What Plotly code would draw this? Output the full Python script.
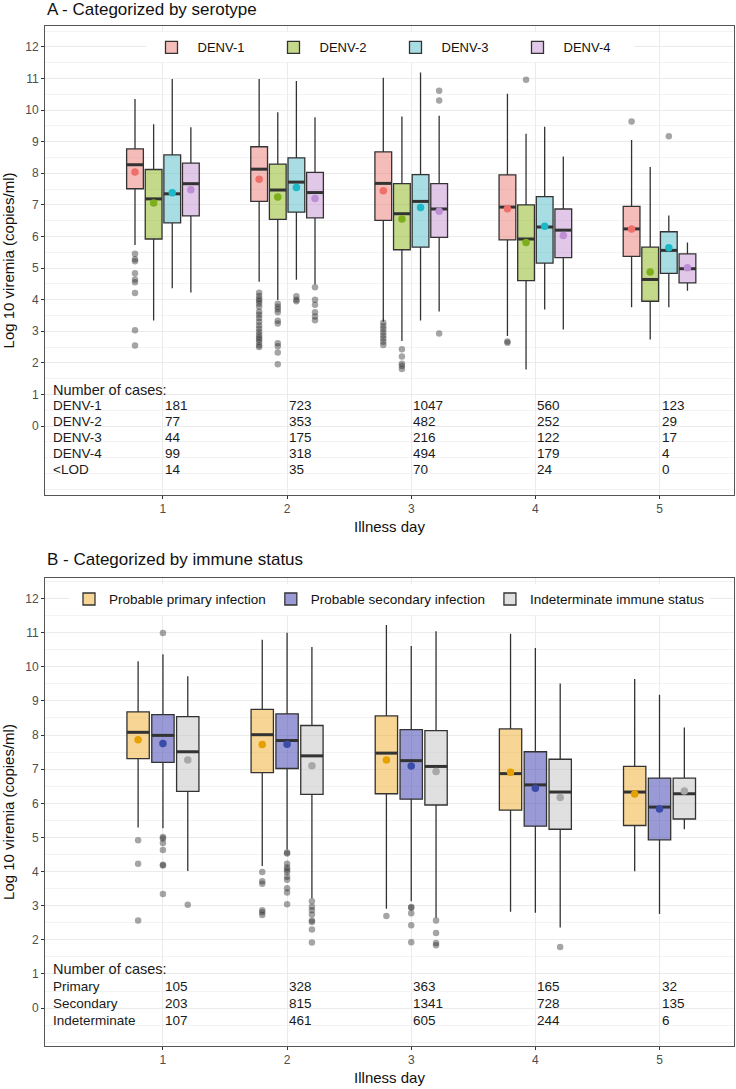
import plotly.graph_objects as go

DAYS = [1, 2, 3, 4, 5]

# ---------------- Panel A : serotypes ----------------
SEROTYPES = ["DENV-1", "DENV-2", "DENV-3", "DENV-4"]
A_COLORS = {"DENV-1": "#EF6F6A", "DENV-2": "#7DAE1C", "DENV-3": "#1BB8C8", "DENV-4": "#BC8FD6"}
A_FILLS = {"DENV-1": "rgba(235,123,117,0.5)", "DENV-2": "rgba(139,179,21,0.5)",
           "DENV-3": "rgba(81,187,199,0.5)", "DENV-4": "rgba(197,145,209,0.5)"}

A_Q1 = {"DENV-1": [7.51, 7.11, 6.51, 5.89, 5.37], "DENV-2": [5.92, 6.54, 5.58, 4.60, 3.95],
        "DENV-3": [6.43, 6.77, 5.66, 5.16, 4.83], "DENV-4": [6.65, 6.59, 5.97, 5.33, 4.53]}
A_MED = {"DENV-1": [8.27, 8.13, 7.68, 6.93, 6.24], "DENV-2": [7.19, 7.47, 6.72, 5.92, 4.64],
         "DENV-3": [7.35, 7.72, 7.11, 6.30, 5.56], "DENV-4": [7.67, 7.39, 6.87, 6.20, 4.98]}
A_Q3 = {"DENV-1": [8.77, 8.84, 8.68, 7.95, 6.95], "DENV-2": [8.12, 8.29, 7.67, 7.00, 5.66],
        "DENV-3": [8.58, 8.49, 7.96, 7.26, 6.15], "DENV-4": [8.32, 8.03, 7.67, 6.87, 5.45]}
A_LO = {"DENV-1": [5.73, 4.57, 3.30, 2.85, 3.76], "DENV-2": [3.34, 3.99, 2.69, 1.79, 2.74],
        "DENV-3": [4.36, 4.63, 3.34, 3.69, 3.76], "DENV-4": [4.23, 4.49, 3.63, 3.06, 4.28]}
A_HI = {"DENV-1": [10.35, 10.98, 11.02, 10.52, 9.05], "DENV-2": [9.55, 9.93, 9.80, 9.25, 8.20],
        "DENV-3": [10.98, 10.92, 11.19, 9.47, 6.66], "DENV-4": [9.46, 9.77, 9.82, 8.53, 5.81]}
A_MEAN = {"DENV-1": [8.04, 7.81, 7.45, 6.88, 6.24], "DENV-2": [7.06, 7.25, 6.55, 5.81, 4.88],
          "DENV-3": [7.38, 7.55, 6.92, 6.32, 5.64], "DENV-4": [7.48, 7.20, 6.80, 6.03, 5.01]}
A_OUT = {
    "DENV-1": [[5.45, 5.28, 5.22, 4.84, 4.64, 4.55, 4.21, 3.03, 2.55],
               [4.22, 4.12, 4.02, 3.96, 3.88, 3.78, 3.62, 3.52, 3.42, 3.30, 3.18, 3.08,
                2.98, 2.88, 2.80, 2.74, 2.66, 2.56, 2.50],
               [3.27, 3.17, 3.07, 2.97, 2.87, 2.77, 2.67, 2.57],
               [2.68, 2.64],
               [9.64]],
    "DENV-2": [[], [3.87, 3.78, 3.70, 3.60, 3.33, 3.25, 2.62, 2.53, 2.33, 1.96],
               [2.43, 2.20, 1.97, 1.90, 1.81], [10.96], []],
    "DENV-3": [[], [4.11, 4.00, 3.95], [], [], [9.17]],
    "DENV-4": [[], [4.39, 4.00, 3.84, 3.60, 3.47, 3.35], [10.61, 10.30, 2.93], [], []],
}
A_TABLE_LABELS = ["DENV-1", "DENV-2", "DENV-3", "DENV-4", "&lt;LOD"]
A_COUNTS = [[181, 723, 1047, 560, 123],
            [77, 353, 482, 252, 29],
            [44, 175, 216, 122, 17],
            [99, 318, 494, 179, 4],
            [14, 35, 70, 24, 0]]

# ---------------- Panel B : immune status ----------------
STATUSES = ["Probable primary infection", "Probable secondary infection", "Indeterminate immune status"]
B_COLORS = {STATUSES[0]: "#E6A000", STATUSES[1]: "#3A4BA8", STATUSES[2]: "#A8A8A8"}
B_FILLS = {STATUSES[0]: "rgba(239,171,41,0.5)", STATUSES[1]: "rgba(53,53,173,0.5)",
           STATUSES[2]: "rgba(193,193,193,0.5)"}
B_Q1 = {STATUSES[0]: [7.31, 6.90, 6.28, 5.80, 5.35], STATUSES[1]: [7.20, 7.02, 6.12, 5.33, 4.93],
        STATUSES[2]: [6.35, 6.26, 5.95, 5.24, 5.54]}
B_MED = {STATUSES[0]: [8.08, 8.01, 7.47, 6.87, 6.33], STATUSES[1]: [7.99, 7.84, 7.25, 6.54, 5.89],
         STATUSES[2]: [7.51, 7.39, 7.08, 6.33, 6.28]}
B_Q3 = {STATUSES[0]: [8.68, 8.75, 8.56, 8.18, 7.08], STATUSES[1]: [8.60, 8.62, 8.16, 7.51, 6.74],
        STATUSES[2]: [8.54, 8.28, 8.13, 7.29, 6.74]}
B_LO = {STATUSES[0]: [5.29, 4.16, 2.91, 2.82, 4.01], STATUSES[1]: [5.27, 4.65, 3.13, 2.79, 2.76],
        STATUSES[2]: [4.02, 3.22, 2.65, 2.36, 5.24]}
B_HI = {STATUSES[0]: [10.16, 10.79, 11.22, 10.97, 9.64], STATUSES[1]: [10.37, 11.00, 10.61, 10.55, 9.18],
        STATUSES[2]: [9.72, 10.58, 11.04, 9.51, 8.22]}
B_MEAN = {STATUSES[0]: [7.86, 7.72, 7.27, 6.91, 6.27], STATUSES[1]: [7.75, 7.73, 7.09, 6.44, 5.83],
          STATUSES[2]: [7.27, 7.10, 6.93, 6.17, 6.36]}
B_OUT = {
    STATUSES[0]: [[4.92, 4.23, 2.57], [3.99, 3.72, 3.64, 2.87, 2.81, 2.73], [2.70], [], []],
    STATUSES[1]: [[10.99, 5.01, 4.97, 4.84, 4.63, 4.20, 4.18, 3.34],
                  [4.56, 4.53, 4.23, 4.12, 4.05, 3.99, 3.85, 3.76, 3.51, 3.39, 3.04],
                  [2.96, 2.94, 2.78, 2.43, 1.93], [], []],
    STATUSES[2]: [[3.03], [3.13, 2.97, 2.87, 2.74, 2.57, 2.52, 2.30, 1.92],
                  [2.57, 2.20, 1.91, 1.84], [1.79], []],
}
B_TABLE_LABELS = ["Primary", "Secondary", "Indeterminate"]
B_COUNTS = [[105, 328, 363, 165, 32],
            [203, 815, 1341, 728, 135],
            [107, 461, 605, 244, 6]]

# ---------------- styling ----------------
FONT = "Liberation Sans, Arial, sans-serif"
DODGE = 0.6
EDGE = "#333333"
OUT_COLOR = "rgba(40,40,40,0.42)"

fig = go.Figure()


def add_panel(groups, colors, fills, q1, med, q3, lo, hi, mean, outl, xa, ya, legend):
    n = len(groups)
    step = DODGE / n
    bw = step * 0.9
    for i, g in enumerate(groups):
        off = (i - (n - 1) / 2) * step
        xs = [d + off for d in DAYS]
        fig.add_trace(go.Box(
            x=xs, q1=q1[g], median=med[g], q3=q3[g], lowerfence=lo[g], upperfence=hi[g],
            width=bw, fillcolor=fills[g], line=dict(color=EDGE, width=1.3), whiskerwidth=0,
            name=g, legend=legend, xaxis=xa, yaxis=ya, hoverinfo="skip", showlegend=True))
        # thick median line (ggplot fatten)
        mx, my = [], []
        for x, m in zip(xs, med[g]):
            mx += [x - bw / 2, x + bw / 2, None]
            my += [m, m, None]
        fig.add_trace(go.Scatter(x=mx, y=my, mode="lines", line=dict(color=EDGE, width=3),
                                 xaxis=xa, yaxis=ya, showlegend=False, hoverinfo="skip"))
        # outliers
        ox, oy = [], []
        for x, vals in zip(xs, outl[g]):
            ox += [x] * len(vals)
            oy += vals
        fig.add_trace(go.Scatter(x=ox, y=oy, mode="markers",
                                 marker=dict(color=OUT_COLOR, size=6.5, line=dict(width=0)),
                                 xaxis=xa, yaxis=ya, showlegend=False, hoverinfo="skip"))
    for i, g in enumerate(groups):
        off = (i - (n - 1) / 2) * step
        xs = [d + off for d in DAYS]
        fig.add_trace(go.Scatter(x=xs, y=mean[g], mode="markers",
                                 marker=dict(color=colors[g], size=7.5, line=dict(width=0)),
                                 xaxis=xa, yaxis=ya, showlegend=False, hoverinfo="skip"))


add_panel(SEROTYPES, A_COLORS, A_FILLS, A_Q1, A_MED, A_Q3, A_LO, A_HI, A_MEAN, A_OUT, "x", "y", "legend")
add_panel(STATUSES, B_COLORS, B_FILLS, B_Q1, B_MED, B_Q3, B_LO, B_HI, B_MEAN, B_OUT, "x2", "y2", "legend2")

annotations = []
LABEL_X = 0.1
HEADER_Y = 1.15
ROW_Y0 = 0.64
ROW_STEP = 0.5


def add_table(labels, counts, xref, yref):
    annotations.append(dict(x=LABEL_X, y=HEADER_Y, xref=xref, yref=yref, text="Number of cases:",
                            showarrow=False, xanchor="left", yanchor="middle",
                            font=dict(family=FONT, size=14.5, color="#1A1A1A")))
    for r, (lab, row) in enumerate(zip(labels, counts)):
        yy = ROW_Y0 - r * ROW_STEP
        annotations.append(dict(x=LABEL_X, y=yy, xref=xref, yref=yref, text=lab, showarrow=False,
                                xanchor="left", yanchor="middle",
                                font=dict(family=FONT, size=13.5, color="#1A1A1A")))
        for d, c in zip(DAYS, row):
            annotations.append(dict(x=d, y=yy, xref=xref, yref=yref, text=str(c), showarrow=False,
                                    xanchor="left", yanchor="middle",
                                    font=dict(family=FONT, size=13.5, color="#1A1A1A")))


add_table(A_TABLE_LABELS, A_COUNTS, "x", "y")
add_table(B_TABLE_LABELS, B_COUNTS, "x2", "y2")

annotations.append(dict(x=0, y=1.0165, xref="paper", yref="paper", text="A - Categorized by serotype",
                        showarrow=False, xanchor="left", yanchor="middle",
                        font=dict(family=FONT, size=17, color="#111111")))
annotations.append(dict(x=0, y=0.4765, xref="paper", yref="paper", text="B - Categorized by immune status",
                        showarrow=False, xanchor="left", yanchor="middle",
                        font=dict(family=FONT, size=17, color="#111111")))

xaxis_common = dict(range=[0.05, 5.6], tickvals=DAYS, ticktext=[str(d) for d in DAYS],
                    showgrid=True, gridcolor="#EBEBEB", gridwidth=1, zeroline=False,
                    showline=True, mirror=True, linecolor="#555555", linewidth=1,
                    ticks="outside", ticklen=3, tickcolor="#333333",
                    tickfont=dict(family=FONT, size=12, color="#4D4D4D"),
                    title=dict(text="Illness day", font=dict(family=FONT, size=15, color="#111111"),
                               standoff=6))
yaxis_common = dict(tickvals=list(range(0, 13)), showgrid=True, gridcolor="#EBEBEB", gridwidth=1,
                    zeroline=False, showline=True, mirror=True, linecolor="#555555", linewidth=1,
                    ticks="outside", ticklen=3, tickcolor="#333333",
                    minor=dict(dtick=0.5, tick0=0, showgrid=True, gridcolor="#F3F3F3", gridwidth=0.6),
                    tickfont=dict(family=FONT, size=12, color="#4D4D4D"),
                    title=dict(text="Log 10 viremia (copies/ml)",
                               font=dict(family=FONT, size=15, color="#111111"), standoff=6))

fig.update_layout(
    width=736, height=1089,
    margin=dict(l=45, r=2, t=26, b=43),
    paper_bgcolor="white", plot_bgcolor="white",
    font=dict(family=FONT),
    boxmode="overlay",
    xaxis=dict(**xaxis_common, domain=[0, 1], anchor="y"),
    yaxis=dict(**yaxis_common, domain=[0.5402, 1.0], range=[-2.18, 12.66], anchor="x"),
    xaxis2=dict(**xaxis_common, domain=[0, 1], anchor="y2"),
    yaxis2=dict(**yaxis_common, domain=[0.0, 0.4588], range=[-1.11, 12.6], anchor="x2"),
    legend=dict(orientation="h", x=0.5, xanchor="center", y=0.979, yanchor="middle",
                bgcolor="white", font=dict(family=FONT, size=13, color="#111111"),
                itemwidth=42, entrywidth=65, entrywidthmode="pixels"),
    legend2=dict(orientation="h", x=0.5, xanchor="center", y=0.438, yanchor="middle",
                 bgcolor="white", font=dict(family=FONT, size=13.5, color="#111111")),
    annotations=annotations,
    showlegend=True,
)

# remove the default page margin so the figure fills the window exactly
fig.write_html("out.html",
               config={"displayModeBar": False},
               post_script="document.body.style.margin='0';"
                           "document.documentElement.style.overflow='hidden';")
